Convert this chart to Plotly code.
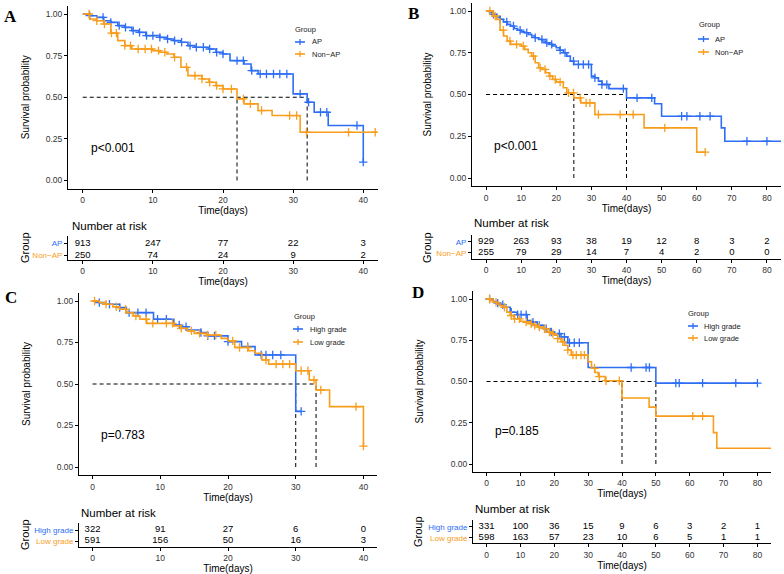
import plotly.graph_objects as go

W, H = 784, 574
BLUE = "#2E6EF5"
ORANGE = "#F89D1C"
FONT = "Liberation Sans, Arial, sans-serif"

# ---------------- data ----------------
# Panel A: AP vs Non-AP, 0-40 days
a_groups = ["AP", "Non\u2212AP"]
a_ap_t = [1, 2, 3, 4, 5, 6, 7, 8, 9, 11, 12, 13, 14, 15, 16, 18, 19, 20, 21, 23, 24, 25, 30, 32, 33, 35, 40]
a_ap_s = [0.99, 0.98, 0.96, 0.95, 0.93, 0.92, 0.90, 0.89, 0.87, 0.86, 0.85, 0.84, 0.83, 0.81, 0.80, 0.79,
          0.77, 0.76, 0.72, 0.70, 0.66, 0.64, 0.52, 0.47, 0.41, 0.33, 0.11]
a_ap_cens = [1, 2.9, 4, 5.2, 6.1, 7.2, 8.1, 9.1, 10, 11, 12.1, 13.1, 14.1, 15.3, 16.2, 17.2, 18.1, 19.1, 20,
             22, 22.9, 24.1, 25.3, 26.2, 27.2, 28.1, 29.1, 31, 32.2, 33.9, 34.8, 39.1, 40]
a_ap_end = 40
a_non_t = [1, 2, 3, 4, 5, 6, 7, 10, 11, 12, 13, 14, 15, 17, 18, 19, 20, 22, 23, 25, 27, 31]
a_non_s = [0.97, 0.96, 0.94, 0.885, 0.84, 0.81, 0.79, 0.78, 0.77, 0.76, 0.74, 0.68, 0.63, 0.61, 0.59,
           0.57, 0.55, 0.49, 0.46, 0.42, 0.39, 0.29]
a_non_cens = [0.9, 2, 3.1, 4.1, 4.8, 6, 6.8, 7.9, 8.9, 9.8, 10.8, 11.7, 13.1, 14.8, 16, 17, 18.1, 19.1, 20,
              21.2, 22.9, 23.9, 25.5, 29.5, 30.5, 31.9, 37.9, 41.7]
a_non_end = 42
a_risk_times = [0, 10, 20, 30, 40]
a_risk_ap = [913, 247, 77, 22, 3]
a_risk_non = [250, 74, 24, 9, 2]
a_p = "p<0.001"

# Panel B: AP vs Non-AP, 0-80 days
b_groups = ["AP", "Non\u2212AP"]
b_ap_t = [1, 2, 3, 4, 5, 6, 7, 8, 9, 10, 11, 12, 13, 14, 15, 16, 17, 18, 19, 20, 21, 22, 23, 24, 25, 30,
          31, 32, 33, 35, 40, 48, 50, 67, 68]
b_ap_s = [0.99, 0.98, 0.965, 0.95, 0.935, 0.92, 0.91, 0.895, 0.885, 0.875, 0.87, 0.86, 0.85, 0.84, 0.83,
          0.82, 0.81, 0.80, 0.79, 0.78, 0.765, 0.75, 0.73, 0.70, 0.68, 0.61, 0.60, 0.58, 0.56, 0.535,
          0.48, 0.445, 0.37, 0.30, 0.22]
b_ap_cens = [2.1, 4, 5.9, 7.8, 9.7, 11.6, 14, 15.9, 17.3, 18.7, 21.1, 22.5, 24.9, 26.3, 27.7, 29.2, 31, 33,
             34.4, 39.1, 43, 47.2, 55.7, 57.2, 60.9, 63.8, 74.3, 80]
b_ap_end = 86
b_non_t = [2, 3, 4, 5, 6, 7, 10, 11, 12, 13, 14, 15, 16, 17, 18, 19, 20, 22, 23, 25, 27, 31, 45, 60]
b_non_s = [0.97, 0.95, 0.885, 0.85, 0.82, 0.80, 0.79, 0.77, 0.75, 0.73, 0.69, 0.66, 0.65, 0.63, 0.61,
           0.59, 0.575, 0.54, 0.51, 0.48, 0.45, 0.38, 0.30, 0.155]
b_non_cens = [1.1, 2.6, 4.9, 6.8, 8.7, 10.6, 13.5, 15.4, 16.8, 18.2, 19.7, 21.1, 23.5, 24.9, 26.8, 28.5,
              29.6, 32, 38.2, 41.9, 50.9, 62.4]
b_non_end = 62.4
b_risk_times = [0, 10, 20, 30, 40, 50, 60, 70, 80]
b_risk_ap = [929, 263, 93, 38, 19, 12, 8, 3, 2]
b_risk_non = [255, 79, 29, 14, 7, 4, 2, 0, 0]
b_p = "p<0.001"

# Panel C: High grade vs Low grade, 0-40 days
c_groups = ["High grade", "Low grade"]
c_hi_t = [1, 2, 4, 5, 9, 12, 13, 14, 16, 17, 20, 22, 24, 30]
c_hi_s = [0.99, 0.98, 0.96, 0.93, 0.89, 0.855, 0.845, 0.825, 0.81, 0.79, 0.755, 0.725, 0.675, 0.335]
c_hi_cens = [1, 2.5, 4, 5.4, 6.7, 7.9, 9.6, 10.9, 12.8, 13.8, 16, 17, 18, 20, 22.9, 24.9, 25.6, 26.6,
             27.8, 30.8]
c_hi_end = 30.8
c_lo_t = [1, 2, 3, 4, 5, 6, 7, 8, 12, 13, 14, 15, 17, 19, 20, 21, 23, 24, 25, 26, 30, 32, 33, 35, 40]
c_lo_s = [0.99, 0.98, 0.965, 0.95, 0.93, 0.91, 0.89, 0.865, 0.85, 0.835, 0.82, 0.805, 0.795, 0.775,
          0.76, 0.72, 0.70, 0.685, 0.645, 0.62, 0.58, 0.524, 0.464, 0.364, 0.126]
c_lo_cens = [0.3, 2, 3.5, 4.9, 6.4, 7.9, 8.9, 10.9, 11.8, 13.1, 14.6, 15.8, 17, 18.2, 20.7, 21.7, 22.9,
             25.6, 27.1, 28.1, 29.1, 30.8, 31.8, 32.7, 33.7, 38.9, 40]
c_lo_end = 40
c_risk_times = [0, 10, 20, 30, 40]
c_risk_hi = [322, 91, 27, 6, 0]
c_risk_lo = [591, 156, 50, 16, 3]
c_p = "p=0.783"

# Panel D: High grade vs Low grade, 0-80 days
d_groups = ["High grade", "Low grade"]
d_hi_t = [1, 2, 3, 4, 5, 7, 9, 12, 13, 15, 17, 19, 20, 22, 24, 30, 50]
d_hi_s = [0.995, 0.985, 0.975, 0.965, 0.95, 0.92, 0.905, 0.87, 0.86, 0.84, 0.82, 0.80, 0.79, 0.77,
          0.735, 0.585, 0.49]
d_hi_cens = [0.9, 3.3, 4.8, 7.3, 9.2, 10.2, 11.7, 13.7, 15.6, 17.6, 19.1, 21.5, 23, 24.5, 25.9, 27.4,
             42.7, 47.1, 48.1, 55.9, 56.9, 63.8, 73.6, 80]
d_hi_end = 80
d_lo_t = [1, 2, 3, 4, 5, 6, 7, 8, 10, 11, 13, 14, 15, 17, 18, 19, 20, 21, 22, 23, 24, 25, 30, 31, 32,
          33, 35, 40, 48, 50, 67, 68]
d_lo_s = [0.99, 0.98, 0.97, 0.96, 0.95, 0.92, 0.90, 0.88, 0.865, 0.86, 0.85, 0.84, 0.83, 0.82, 0.80,
          0.79, 0.78, 0.76, 0.74, 0.72, 0.69, 0.66, 0.62, 0.58, 0.555, 0.53, 0.505, 0.40, 0.345, 0.29,
          0.19, 0.095]
d_lo_cens = [0.9, 2.8, 5.3, 7.3, 8.3, 9.7, 11.7, 13.2, 14.2, 15.6, 17.1, 18.6, 19.6, 21, 22.5, 24, 25.5,
             26.5, 27.9, 28.9, 31.9, 33.3, 35.3, 39.2, 60.9, 63.8]
d_lo_end = 86
d_risk_times = [0, 10, 20, 30, 40, 50, 60, 70, 80]
d_risk_hi = [331, 100, 36, 15, 9, 6, 3, 2, 1]
d_risk_lo = [598, 163, 57, 23, 10, 6, 5, 1, 1]
d_p = "p=0.185"


def px(x):
    return x / W


def py(y):
    return 1 - y / H


def surv_at(ts, ss, x):
    s = 1.0
    for t, v in zip(ts, ss):
        if t <= x:
            s = v
    return s


def median(ts, ss):
    for t, v in zip(ts, ss):
        if v <= 0.5:
            return t
    return None


def note(x, y, text, size, xanchor="center", angle=0, color="black", family=FONT):
    return dict(x=px(x), y=py(y), xref="paper", yref="paper", text=text, showarrow=False,
                xanchor=xanchor, yanchor="middle", textangle=angle,
                font=dict(size=size, family=family, color=color))


fig = go.Figure()
annotations = []
shapes = []

panels = [
    dict(letter="A", groups=a_groups, p=a_p,
         curves=[(a_ap_t, a_ap_s, a_ap_cens, a_ap_end), (a_non_t, a_non_s, a_non_cens, a_non_end)],
         risk=(a_risk_times, a_risk_ap, a_risk_non), xmax=40, xr=[-2.1, 42.1],
         mx=(68, 378), my=(5.7, 188.8), ry=(236, 260), rr=[0.65, 2.59],
         letter_xy=(10, 17), ylab_x=25, grp_xy=(25, 248), nar_xy=(70, 226), p_xy=(89, 148),
         leg=(293, 29, 42, 54, 295, 305, 310)),
    dict(letter="B", groups=b_groups, p=b_p,
         curves=[(b_ap_t, b_ap_s, b_ap_cens, b_ap_end), (b_non_t, b_non_s, b_non_cens, b_non_end)],
         risk=(b_risk_times, b_risk_ap, b_risk_non), xmax=80, xr=[-4, 84],
         mx=(472, 781), my=(2.65, 186.35), ry=(235, 258.5), rr=[0.5, 2.6],
         letter_xy=(413, 13), ylab_x=427, grp_xy=(427, 247), nar_xy=(472, 223), p_xy=(492, 146),
         leg=(697, 25, 39, 52, 698, 709, 713)),
    dict(letter="C", groups=c_groups, p=c_p,
         curves=[(c_hi_t, c_hi_s, c_hi_cens, c_hi_end), (c_lo_t, c_lo_s, c_lo_cens, c_lo_end)],
         risk=(c_risk_times, c_risk_hi, c_risk_lo), xmax=40, xr=[-2, 42],
         mx=(79, 377), my=(292.7, 475.3), ry=(523, 547), rr=[0.46, 2.64],
         letter_xy=(11, 297), ylab_x=26, grp_xy=(25, 535), nar_xy=(79, 513), p_xy=(99, 435),
         leg=(292, 316, 329, 342, 293, 303, 308)),
    dict(letter="D", groups=d_groups, p=d_p,
         curves=[(d_hi_t, d_hi_s, d_hi_cens, d_hi_end), (d_lo_t, d_lo_s, d_lo_cens, d_lo_end)],
         risk=(d_risk_times, d_risk_hi, d_risk_lo), xmax=80, xr=[-4, 84],
         mx=(473, 771), my=(290.75, 472.25), ry=(520, 543.3), rr=[0.49, 2.61],
         letter_xy=(418, 292), ylab_x=419, grp_xy=(418, 532), nar_xy=(473, 509), p_xy=(493, 431),
         leg=(686, 313, 326, 338, 688, 698, 702)),
]

colors = [BLUE, ORANGE]
DASH = "4px,3px"
axis_common = dict(showline=True, linecolor="black", linewidth=1, ticks="outside", ticklen=3,
                   tickcolor="black", tickwidth=1, showgrid=False, zeroline=False, automargin=False,
                   tickfont=dict(size=8.5, color="#333", family=FONT))
layout_axes = {}

for i, p in enumerate(panels):
    mi = 2 * i + 1
    ri = 2 * i + 2
    mxa, mya = ("x" if mi == 1 else f"x{mi}"), ("y" if mi == 1 else f"y{mi}")
    rxa, rya = f"x{ri}", f"y{ri}"
    tv = list(range(0, p["xmax"] + 1, 10))
    xtitle = dict(text="Time(days)", standoff=0, font=dict(size=10, family=FONT, color="black"))

    # main KM axes
    layout_axes["xaxis" if mi == 1 else f"xaxis{mi}"] = dict(
        axis_common, domain=[px(p["mx"][0]), px(p["mx"][1])], range=p["xr"], anchor=mya,
        tickvals=tv, title=xtitle)
    layout_axes["yaxis" if mi == 1 else f"yaxis{mi}"] = dict(
        axis_common, domain=[py(p["my"][1]), py(p["my"][0])], range=[-0.05, 1.05], anchor=mxa,
        tickvals=[0, 0.25, 0.5, 0.75, 1], tickformat=".2f")

    # risk table axes
    rt, r1, r2 = p["risk"]
    layout_axes[f"xaxis{ri}"] = dict(
        axis_common, domain=[px(p["mx"][0]), px(p["mx"][1])], range=p["xr"], anchor=rya,
        tickvals=tv, title=xtitle)
    layout_axes[f"yaxis{ri}"] = dict(
        axis_common, domain=[py(p["ry"][1]), py(p["ry"][0])], range=p["rr"], anchor=rxa,
        tickvals=[2, 1],
        ticktext=[f"<span style='color:{colors[0]}'>{p['groups'][0]}</span>",
                  f"<span style='color:{colors[1]}'>{p['groups'][1]}</span>"],
        tickfont=dict(size=8, family=FONT))

    # median lines
    meds = [median(c[0], c[1]) for c in p["curves"]]
    meds = [m for m in meds if m is not None]
    fig.add_trace(go.Scatter(x=[0, max(meds)], y=[0.5, 0.5], mode="lines", xaxis=mxa, yaxis=mya,
                             line=dict(color="black", width=1, dash=DASH), showlegend=False,
                             hoverinfo="skip"))
    for m in meds:
        fig.add_trace(go.Scatter(x=[m, m], y=[0, 0.5], mode="lines", xaxis=mxa, yaxis=mya,
                                 line=dict(color="black", width=1, dash=DASH), showlegend=False,
                                 hoverinfo="skip"))

    # curves and censor marks
    for (ts, ss, cens, end), col, name in zip(p["curves"], colors, p["groups"]):
        fig.add_trace(go.Scatter(x=[0] + ts + [end], y=[1.0] + ss + [ss[-1]], mode="lines",
                                 line=dict(color=col, width=1.6, shape="hv"), xaxis=mxa, yaxis=mya,
                                 name=name, showlegend=False))
        fig.add_trace(go.Scatter(x=cens, y=[surv_at(ts, ss, c) for c in cens], mode="markers",
                                 marker=dict(symbol="cross-thin", size=6, line=dict(color=col, width=1.3)),
                                 xaxis=mxa, yaxis=mya, showlegend=False, hoverinfo="skip"))

    # numbers at risk
    for row, vals in ((2, r1), (1, r2)):
        fig.add_trace(go.Scatter(x=rt, y=[row] * len(rt), mode="text", text=[str(v) for v in vals],
                                 textfont=dict(size=9.5, color="black", family=FONT),
                                 xaxis=rxa, yaxis=rya, showlegend=False, hoverinfo="skip"))

    # text annotations
    lx, ly = p["letter_xy"]
    annotations.append(note(lx, ly, f"<b>{p['letter']}</b>", 17,
                            family="Liberation Serif, Times New Roman, serif"))
    annotations.append(note(p["ylab_x"], (p["my"][0] + p["my"][1]) / 2, "Survival probability", 10, angle=-90))
    gx, gy = p["grp_xy"]
    annotations.append(note(gx, gy, "Group", 11, angle=-90))
    nx, ny = p["nar_xy"]
    annotations.append(note(nx, ny, "Number at risk", 11.5, xanchor="left"))
    ppx, ppy = p["p_xy"]
    annotations.append(note(ppx, ppy, p["p"], 12, xanchor="left"))

    # legend
    tx, ty, y1, y2, g0, g1, txt = p["leg"]
    annotations.append(note(tx, ty, "Group", 7.5, xanchor="left", color="#222"))
    for yy, col, name in ((y1, colors[0], p["groups"][0]), (y2, colors[1], p["groups"][1])):
        shapes.append(dict(type="line", xref="paper", yref="paper", x0=px(g0), x1=px(g1), y0=py(yy), y1=py(yy),
                           line=dict(color=col, width=1.6)))
        shapes.append(dict(type="line", xref="paper", yref="paper", x0=px((g0 + g1) / 2), x1=px((g0 + g1) / 2),
                           y0=py(yy - 3), y1=py(yy + 3), line=dict(color=col, width=1.3)))
        annotations.append(note(txt, yy, name, 7.5, xanchor="left", color="#222"))

fig.update_layout(
    width=W, height=H, margin=dict(l=0, r=0, t=0, b=0),
    paper_bgcolor="white", plot_bgcolor="white",
    font=dict(family=FONT, color="black"),
    annotations=annotations, shapes=shapes, showlegend=False,
    **layout_axes,
)

fig.write_html("out.html", config={"displayModeBar": False},
               post_script="document.body.style.margin='0';")
